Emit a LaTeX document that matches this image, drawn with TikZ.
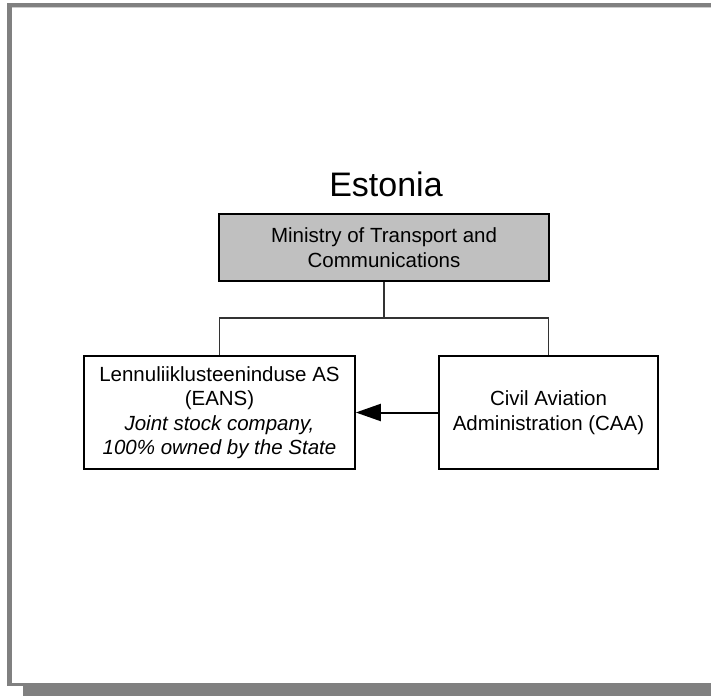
\documentclass[tikz,border=0pt]{standalone}
\usepackage{fontspec}
\setmainfont{Liberation Sans}
\usetikzlibrary{arrows.meta}
\definecolor{framegray}{HTML}{808080}
\definecolor{boxgray}{HTML}{C0C0C0}
\tikzset{
  orgbox/.style={draw=black, line width=1.6pt, inner sep=0pt, align=center,
    font=\fontsize{20.5}{24.5}\selectfont},
  conn/.style={draw=black!80, line width=1.1pt},
}
\begin{document}
\begin{tikzpicture}[x=1pt,y=-1pt]
\useasboundingbox (0,0) rectangle (711,696);
% frame
\fill[white] (0,0) rectangle (711,696);
\fill[framegray] (7,3) rectangle (711,6.5);
\fill[black!20] (11,6.5) rectangle (711,7.5);
\fill[framegray] (7,3) rectangle (11.5,686);
\fill[framegray] (7,683) rectangle (711,686);
\fill[framegray] (23,683) rectangle (711,696);
% title
\node[anchor=base, inner sep=0pt, font=\fontsize{34}{40}\selectfont] (title) at (386,196) {Estonia};
% boxes
\node[orgbox, fill=boxgray, minimum width=330pt, minimum height=67pt] (min) at (384,247.5)
  {Ministry of Transport and\\Communications};
\node[orgbox, fill=white, minimum width=271pt, minimum height=113pt] (eans) at (219.5,412.5)
  {Lennuliiklusteeninduse AS\\(EANS)\\\textit{Joint stock company,}\\\textit{100\% owned by the State}};
\node[orgbox, fill=white, minimum width=219pt, minimum height=113pt] (caa) at (548.5,412.5)
  {Civil Aviation\\Administration (CAA)};
% connectors
\coordinate (bus) at (384,318);
\draw[conn] (min.south) -- (bus);
\draw[conn] (eans.north) -- (eans.north |- bus) -- (caa.north |- bus) -- (caa.north);
\draw[line width=2pt, -{Triangle[length=25pt,width=17pt]}] (caa.west) -- (eans.east);
\end{tikzpicture}
\end{document}
